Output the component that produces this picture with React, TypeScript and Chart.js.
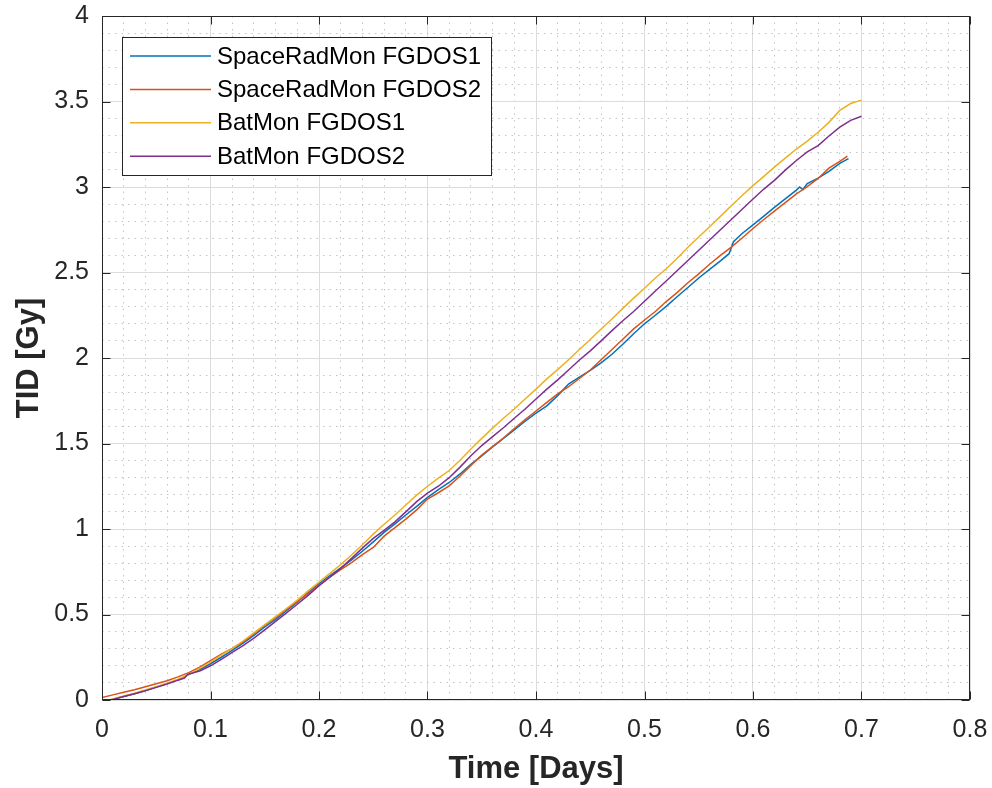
import React, { useEffect, useRef } from 'react';
import { Chart, registerables } from 'chart.js';

Chart.register(...registerables);

// ---------------- data ----------------
const seriesLabels = ['SpaceRadMon FGDOS1', 'SpaceRadMon FGDOS2', 'BatMon FGDOS1', 'BatMon FGDOS2'];
const seriesColors = ['#0072BD', '#D95319', '#EDB120', '#7E2F8E'];

const srm1Time = [
  0.007, 0.01, 0.02, 0.03, 0.04, 0.05, 0.06, 0.07, 0.08, 0.09,
  0.10, 0.11, 0.12, 0.13, 0.14, 0.15, 0.16, 0.17, 0.18, 0.19,
  0.20, 0.21, 0.22, 0.23, 0.24, 0.25, 0.26, 0.27, 0.28, 0.29,
  0.30, 0.31, 0.32, 0.33, 0.34, 0.35, 0.36, 0.37, 0.38, 0.39,
  0.40, 0.41, 0.42, 0.43, 0.44, 0.45, 0.46, 0.47, 0.48, 0.49,
  0.50, 0.51, 0.52, 0.53, 0.54, 0.55, 0.56, 0.57, 0.578, 0.582,
  0.59, 0.60, 0.61, 0.62, 0.63, 0.64, 0.643, 0.646, 0.65, 0.66,
  0.67, 0.68, 0.688,
];
const srm1Dose = [
  0.000, 0.004, 0.020, 0.037, 0.056, 0.076, 0.096, 0.118, 0.148, 0.178,
  0.212, 0.250, 0.290, 0.332, 0.378, 0.428, 0.472, 0.522, 0.572, 0.628,
  0.680, 0.728, 0.772, 0.820, 0.870, 0.925, 0.980, 1.030, 1.082, 1.132,
  1.185, 1.230, 1.272, 1.322, 1.378, 1.428, 1.480, 1.530, 1.580, 1.630,
  1.678, 1.720, 1.780, 1.848, 1.888, 1.928, 1.972, 2.022, 2.080, 2.142,
  2.200, 2.250, 2.302, 2.358, 2.412, 2.468, 2.518, 2.568, 2.610, 2.680,
  2.728, 2.778, 2.830, 2.882, 2.932, 2.982, 3.000, 2.985, 3.020, 3.052,
  3.092, 3.138, 3.166,
];

const srm2Time = [
  0.00, 0.01, 0.02, 0.03, 0.04, 0.05, 0.06, 0.07, 0.08, 0.09,
  0.10, 0.11, 0.12, 0.13, 0.14, 0.15, 0.16, 0.17, 0.18, 0.19,
  0.20, 0.21, 0.22, 0.23, 0.24, 0.25, 0.26, 0.27, 0.28, 0.29,
  0.30, 0.31, 0.32, 0.33, 0.34, 0.35, 0.36, 0.37, 0.38, 0.39,
  0.40, 0.41, 0.42, 0.43, 0.44, 0.45, 0.46, 0.47, 0.48, 0.49,
  0.50, 0.51, 0.52, 0.53, 0.54, 0.55, 0.56, 0.57, 0.58, 0.59,
  0.60, 0.61, 0.62, 0.63, 0.64, 0.65, 0.66, 0.67, 0.68, 0.687,
];
const srm2Dose = [
  0.015, 0.030, 0.045, 0.060, 0.078, 0.095, 0.113, 0.135, 0.160, 0.192,
  0.230, 0.268, 0.302, 0.340, 0.388, 0.438, 0.482, 0.530, 0.576, 0.622,
  0.670, 0.718, 0.762, 0.804, 0.850, 0.892, 0.958, 1.008, 1.058, 1.112,
  1.175, 1.212, 1.252, 1.310, 1.372, 1.432, 1.482, 1.532, 1.588, 1.640,
  1.690, 1.740, 1.790, 1.832, 1.880, 1.930, 1.990, 2.050, 2.110, 2.170,
  2.222, 2.272, 2.330, 2.382, 2.440, 2.492, 2.548, 2.600, 2.648, 2.702,
  2.757, 2.810, 2.860, 2.910, 2.960, 3.002, 3.050, 3.110, 3.150, 3.180,
];

const bat1Time = [
  0.007, 0.01, 0.02, 0.03, 0.04, 0.05, 0.06, 0.07, 0.08, 0.09,
  0.10, 0.11, 0.12, 0.13, 0.14, 0.15, 0.16, 0.17, 0.18, 0.19,
  0.20, 0.21, 0.22, 0.23, 0.24, 0.25, 0.26, 0.27, 0.28, 0.29,
  0.30, 0.31, 0.32, 0.33, 0.34, 0.35, 0.36, 0.37, 0.38, 0.39,
  0.40, 0.41, 0.42, 0.43, 0.44, 0.45, 0.46, 0.47, 0.48, 0.49,
  0.50, 0.51, 0.52, 0.53, 0.54, 0.55, 0.56, 0.57, 0.58, 0.59,
  0.60, 0.61, 0.62, 0.63, 0.64, 0.65, 0.66, 0.67, 0.68, 0.69,
  0.70,
];
const bat1Dose = [
  0.000, 0.006, 0.024, 0.040, 0.058, 0.078, 0.098, 0.122, 0.150, 0.185,
  0.222, 0.262, 0.302, 0.345, 0.392, 0.440, 0.487, 0.535, 0.585, 0.638,
  0.690, 0.740, 0.792, 0.848, 0.908, 0.970, 1.028, 1.082, 1.140, 1.198,
  1.250, 1.298, 1.342, 1.402, 1.468, 1.530, 1.590, 1.648, 1.702, 1.760,
  1.818, 1.878, 1.932, 1.990, 2.050, 2.108, 2.170, 2.228, 2.290, 2.350,
  2.408, 2.468, 2.522, 2.582, 2.648, 2.708, 2.768, 2.828, 2.890, 2.950,
  3.008, 3.062, 3.118, 3.170, 3.222, 3.268, 3.320, 3.378, 3.448, 3.488,
  3.508,
];

const bat2Time = [
  0.007, 0.01, 0.02, 0.03, 0.04, 0.05, 0.06, 0.07, 0.076, 0.079,
  0.09, 0.10, 0.11, 0.12, 0.13, 0.14, 0.15, 0.16, 0.17, 0.18,
  0.19, 0.20, 0.21, 0.22, 0.23, 0.24, 0.25, 0.26, 0.27, 0.28,
  0.29, 0.30, 0.31, 0.32, 0.33, 0.34, 0.35, 0.36, 0.37, 0.38,
  0.39, 0.40, 0.41, 0.42, 0.43, 0.44, 0.45, 0.46, 0.47, 0.48,
  0.49, 0.50, 0.51, 0.52, 0.53, 0.54, 0.55, 0.56, 0.57, 0.58,
  0.59, 0.60, 0.61, 0.62, 0.63, 0.64, 0.65, 0.66, 0.67, 0.68,
  0.69, 0.70,
];
const bat2Dose = [
  0.000, 0.003, 0.020, 0.036, 0.054, 0.074, 0.094, 0.116, 0.128, 0.150,
  0.170, 0.200, 0.238, 0.278, 0.318, 0.362, 0.410, 0.460, 0.510, 0.560,
  0.612, 0.668, 0.718, 0.770, 0.828, 0.888, 0.945, 0.992, 1.042, 1.100,
  1.160, 1.210, 1.250, 1.300, 1.362, 1.428, 1.488, 1.540, 1.592, 1.648,
  1.702, 1.760, 1.818, 1.872, 1.930, 1.988, 2.042, 2.100, 2.160, 2.218,
  2.272, 2.332, 2.392, 2.450, 2.510, 2.570, 2.630, 2.690, 2.750, 2.810,
  2.870, 2.930, 2.988, 3.040, 3.100, 3.155, 3.205, 3.242, 3.298, 3.350,
  3.390, 3.414,
];

const xMajorTicks = [0, 0.1, 0.2, 0.3, 0.4, 0.5, 0.6, 0.7, 0.8];
const yMajorTicks = [0, 0.5, 1, 1.5, 2, 2.5, 3, 3.5, 4];
const xTitle = 'Time [Days]';
const yTitle = 'TID [Gy]';

// ---------------- styling helpers ----------------
const FONT = '"Liberation Sans", Arial, Helvetica, sans-serif';
const AX = '#262626';

const isMajor = (v: number, majors: number[]) => majors.some((m) => Math.abs(m - v) < 1e-6);

const frameAndLegend = {
  id: 'frameAndLegend',
  afterDatasetsDraw(chart: any) {
    const { ctx, chartArea: a, scales } = chart;
    ctx.save();
    const L = Math.round(a.left) + 0.5;
    const R = Math.round(a.right) - 0.5;
    const T = Math.round(a.top) + 0.5;
    const B = Math.round(a.bottom) - 0.5;
    ctx.strokeStyle = AX;
    ctx.lineWidth = 1;
    ctx.strokeRect(L, T, R - L, B - T);
    const tl = 8;
    ctx.beginPath();
    xMajorTicks.forEach((v) => {
      const px = Math.round(scales.x.getPixelForValue(v)) + 0.5;
      ctx.moveTo(px, B);
      ctx.lineTo(px, B - tl);
      ctx.moveTo(px, T);
      ctx.lineTo(px, T + tl);
    });
    yMajorTicks.forEach((v) => {
      const py = Math.round(scales.y.getPixelForValue(v)) + 0.5;
      ctx.moveTo(L, py);
      ctx.lineTo(L + tl, py);
      ctx.moveTo(R, py);
      ctx.lineTo(R - tl, py);
    });
    ctx.stroke();

    // legend box (MATLAB style, inside upper left)
    const lx = a.left + 20;
    const ly = a.top + 21;
    const lw = 369;
    const lh = 138;
    ctx.fillStyle = '#ffffff';
    ctx.fillRect(lx, ly, lw, lh);
    ctx.strokeStyle = AX;
    ctx.lineWidth = 1;
    ctx.strokeRect(Math.round(lx) + 0.5, Math.round(ly) + 0.5, lw, lh);
    ctx.font = `24px ${FONT}`;
    ctx.textBaseline = 'middle';
    ctx.textAlign = 'left';
    chart.data.datasets.forEach((ds: any, i: number) => {
      const cy = ly + 19 + i * 33.4;
      ctx.strokeStyle = ds.borderColor;
      ctx.lineWidth = 1.5;
      ctx.beginPath();
      ctx.moveTo(lx + 8, cy);
      ctx.lineTo(lx + 89, cy);
      ctx.stroke();
      ctx.fillStyle = '#000000';
      ctx.fillText(ds.label, lx + 95, cy + 1);
    });
    ctx.restore();
  },
};

export default function App() {
  const ref = useRef<HTMLCanvasElement | null>(null);

  useEffect(() => {
    if (!ref.current) return;
    const times = [srm1Time, srm2Time, bat1Time, bat2Time];
    const doses = [srm1Dose, srm2Dose, bat1Dose, bat2Dose];
    const drawOrder = [3, 2, 1, 0];
    const chart = new Chart(ref.current, {
      type: 'line',
      data: {
        datasets: seriesLabels.map((label, i) => ({
          label,
          data: times[i].map((t, j) => ({ x: t, y: doses[i][j] })),
          borderColor: seriesColors[i],
          backgroundColor: seriesColors[i],
          borderWidth: 1.5,
          pointRadius: 0,
          tension: 0,
          fill: false,
          order: drawOrder[i],
        })),
      },
      options: {
        responsive: false,
        animation: false,
        devicePixelRatio: 1,
        layout: { padding: { top: 16, right: 22, left: 0, bottom: 0 } },
        plugins: {
          legend: { display: false },
          tooltip: { enabled: false },
        },
        scales: {
          x: {
            type: 'linear',
            min: 0,
            max: 0.8,
            afterFit: (s: any) => {
              s.height = 88;
              s.paddingLeft = 0;
              s.paddingRight = 0;
            },
            ticks: {
              stepSize: 0.02,
              autoSkip: false,
              maxRotation: 0,
              padding: 15,
              color: AX,
              font: { family: FONT, size: 25 },
              callback: (v: any) => (isMajor(Number(v), xMajorTicks) ? String(Math.round(Number(v) * 10) / 10) : ''),
            },
            grid: {
              drawTicks: false,
              lineWidth: 1,
              color: (c: any) => (c.tick && isMajor(c.tick.value, xMajorTicks) ? '#dcdcdc' : '#c4c4c4'),
            },
            border: {
              display: false,
              dash: (c: any) => (c.tick && !isMajor(c.tick.value, xMajorTicks) ? [1.5, 5] : []),
            },
            title: {
              display: true,
              text: xTitle,
              color: AX,
              font: { family: FONT, size: 31, weight: 'bold' },
              padding: { top: 0, bottom: 0 },
            },
          },
          y: {
            type: 'linear',
            min: 0,
            max: 4,
            afterFit: (s: any) => {
              s.width = 102;
              s.paddingTop = 0;
              s.paddingBottom = 0;
            },
            ticks: {
              stepSize: 0.1,
              autoSkip: false,
              padding: 13,
              color: AX,
              font: { family: FONT, size: 25 },
              callback: (v: any) => (isMajor(Number(v), yMajorTicks) ? String(Math.round(Number(v) * 10) / 10) : ''),
            },
            grid: {
              drawTicks: false,
              lineWidth: 1,
              color: (c: any) => (c.tick && isMajor(c.tick.value, yMajorTicks) ? '#dcdcdc' : '#c4c4c4'),
            },
            border: {
              display: false,
              dash: (c: any) => (c.tick && !isMajor(c.tick.value, yMajorTicks) ? [1.5, 5] : []),
            },
            title: {
              display: true,
              text: yTitle,
              color: AX,
              font: { family: FONT, size: 31, weight: 'bold' },
              padding: { top: 11, bottom: 0 },
            },
          },
        },
      },
      plugins: [frameAndLegend],
    });
    return () => chart.destroy();
  }, []);

  return (
    <div style={{ position: 'fixed', left: 0, top: 0, width: 992, height: 788, background: '#ffffff' }}>
      <canvas ref={ref} width={992} height={788} style={{ display: 'block' }} />
    </div>
  );
}
